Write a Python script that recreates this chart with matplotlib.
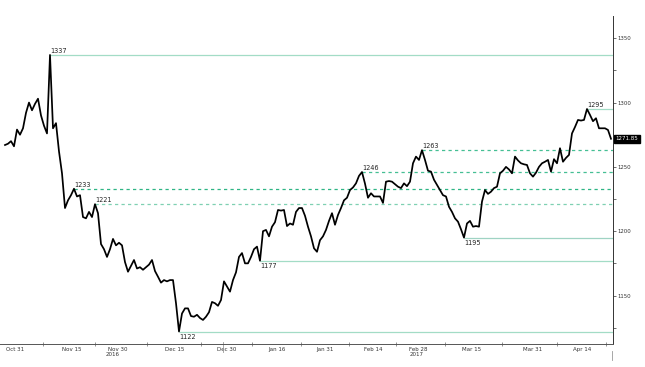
import matplotlib
matplotlib.use('Agg')
import matplotlib.pyplot as plt
import matplotlib.transforms as mtransforms
import numpy as np

# Gold price (intraday samples, evenly spaced), Oct 2016 - Apr 2017
prices = [
    1267, 1268, 1270, 1266, 1279, 1275, 1280, 1292, 1300, 1294,
    1299, 1303, 1290, 1282, 1276, 1337, 1280, 1284, 1262, 1245,
    1218, 1224, 1228, 1233, 1227, 1228, 1211, 1210, 1215, 1211,
    1221, 1214, 1190, 1186, 1180, 1186, 1194, 1189, 1191, 1189,
    1176, 1168.5, 1173, 1177.6, 1171, 1172, 1170, 1172, 1174, 1177.6,
    1169, 1164.6, 1160, 1162, 1161, 1162, 1162, 1144, 1122, 1136,
    1140, 1140, 1134, 1133.5, 1135, 1132.5, 1131, 1133.5, 1137, 1145,
    1144, 1142, 1146.5, 1161, 1157, 1153, 1162, 1168, 1180, 1183,
    1175, 1175, 1180, 1186, 1188, 1177, 1200, 1201, 1196, 1203.5,
    1207, 1216.5, 1216, 1216.5, 1204, 1206, 1205, 1215, 1218, 1218,
    1212, 1203.5, 1196, 1186.7, 1184, 1193, 1196, 1201, 1208, 1214,
    1205, 1212.6, 1218, 1224, 1226, 1232, 1234, 1237.2, 1243, 1246,
    1237, 1226, 1229.5, 1227, 1227, 1227, 1222, 1238.5, 1239, 1238.5,
    1236.5, 1234.6, 1233.5, 1237.2, 1235, 1238.5, 1252.8, 1258, 1255.4, 1263,
    1255.4, 1247, 1246.3, 1240, 1236, 1232, 1228, 1227, 1219, 1215,
    1210, 1207.4, 1201.5, 1195, 1206, 1208, 1203.5, 1204, 1203.5, 1223,
    1232, 1229, 1230.7, 1233.5, 1234.6, 1245, 1247, 1250, 1248, 1245,
    1258, 1255, 1252.8, 1252, 1251.5, 1245, 1242.4, 1245.5, 1250, 1252.8,
    1254, 1255.4, 1246.3, 1256, 1252.8, 1264.5, 1254, 1257, 1259.3, 1276,
    1281, 1286.5, 1286, 1286.5, 1295, 1290.4, 1285.5, 1287.8, 1280, 1280,
    1280, 1278.7, 1271.85,
]
last_price = 1271.85

tick_labels = ['Oct 31', 'Nov 15', 'Nov 30', 'Dec 15', 'Dec 30', 'Jan 16',
               'Jan 31', 'Feb 14', 'Feb 28', 'Mar 15', 'Mar 31', 'Apr 14']
tick_pos = [3.33, 22.33, 37.67, 56.67, 74.0, 90.67,
            106.67, 122.67, 137.67, 155.67, 176.0, 192.33]
year_labels = ['2016', '2017']
year_pos = [36.0, 137.3]

levels = [1337, 1233, 1221, 1122, 1177, 1246, 1263, 1195, 1295]
level_dashed = [False, True, True, False, False, True, True, False, False]
level_below = [False, False, False, True, True, False, False, True, False]
level_colors = ['#a3dcc6', '#2fb585', '#7fd0b2', '#a3dcc6', '#a3dcc6',
                '#45bf94', '#45bf94', '#9fd3c3', '#a3dcc6']

fig = plt.figure(figsize=(6.45, 3.67), dpi=100)
W, H = 645, 367
ax = fig.add_axes([0, (H - 344) / H, 613 / W, (344 - 16) / H])

x = np.arange(len(prices))
xmin, xmax = -1.667, 202.67

# level lines
arr = np.array(prices, dtype=float)
for lv, dashed, below, col in zip(levels, level_dashed, level_below, level_colors):
    idx = int(np.where(np.isclose(arr, lv))[0][0])
    if dashed:
        ax.hlines(lv, idx, xmax, colors=col, linewidth=0.9,
                  linestyles=(0, (2.6, 2.6)), zorder=1)
    else:
        ax.hlines(lv, idx, xmax, colors=col, linewidth=0.9, zorder=1)
    if below:
        ax.annotate(str(lv), (idx, lv), xytext=(0, -1.5), textcoords='offset points',
                    ha='left', va='top', fontsize=4.7, color='#222222', zorder=4)
    else:
        ax.annotate(str(lv), (idx, lv), xytext=(0, 0.5), textcoords='offset points',
                    ha='left', va='bottom', fontsize=4.7, color='#222222', zorder=4)

ax.plot(x, prices, color='black', linewidth=1.25, zorder=3)

# spines
for s in ['top', 'left']:
    ax.spines[s].set_visible(False)
ax.spines['right'].set_linewidth(0.7)
ax.spines['bottom'].set_linewidth(0.7)
ax.spines['right'].set_color('#333333')
ax.spines['bottom'].set_color('#555555')

# right y axis
ax.yaxis.tick_right()
ax.set_yticks([1150, 1200, 1250, 1300, 1350])
ax.set_yticks([1125, 1175, 1225, 1275, 1325], minor=True)
ax.tick_params(axis='y', which='both', direction='out', length=2.2, width=0.5,
               labelsize=3.9, pad=1, colors='#333333')

# x axis: labels without ticks, separators at midpoints
ax.set_xticks(tick_pos)
ax.set_xticklabels(tick_labels)
mids = [(a + b) / 2 for a, b in zip(tick_pos[:-1], tick_pos[1:])]
mids = mids + [tick_pos[-1] + (tick_pos[-1] - tick_pos[-2]) / 2]
mids = [m for m in mids if xmin < m < xmax]
ax.set_xticks(mids, minor=True)
ax.tick_params(axis='x', which='major', length=0, labelsize=4.0, pad=2.2,
               colors='#333333')
ax.tick_params(axis='x', which='minor', direction='inout', length=2.5, width=0.5,
               colors='#666666')

ax.set_xlim(xmin, xmax)
ax.set_ylim(1112.3, 1367.3)

trans = mtransforms.blended_transform_factory(ax.transData, ax.transAxes)
for lbl, p in zip(year_labels, year_pos):
    ax.text(p, -0.024, lbl, transform=trans, ha='center', va='top',
            fontsize=4.0, color='#333333')

# year separator marks
ax.plot([72.67, 72.67], [0.005, -0.025], transform=trans, color='#999999',
        linewidth=0.6, clip_on=False)
ax.plot([202.3, 202.3], [-0.02, -0.05], transform=trans, color='#999999',
        linewidth=0.6, clip_on=False)

# last price tag
transy = mtransforms.blended_transform_factory(ax.transAxes, ax.transData)
ax.text(1.004, last_price, f'{last_price:.2f}', transform=transy, ha='left',
        va='center', fontsize=4.0, color='white',
        bbox=dict(boxstyle='square,pad=0.25', fc='black', ec='black'), zorder=5)

fig.savefig('out.png', dpi=100)
